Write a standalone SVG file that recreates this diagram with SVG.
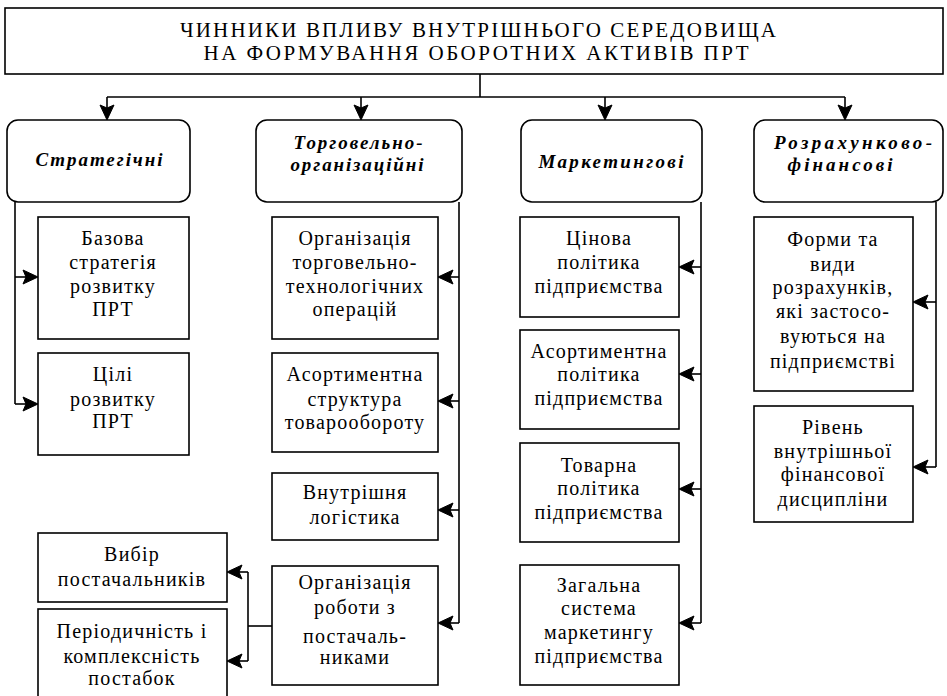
<svg xmlns="http://www.w3.org/2000/svg" xmlns:xlink="http://www.w3.org/1999/xlink" width="947" height="696" viewBox="0 0 947 696">
<defs>
<path id="ar" d="M0,0 L-15,-7 L-12,0 L-15,7 z" fill="#000" stroke="#000" stroke-width="1"/>
<style>
rect{fill:#fff;stroke:#000;stroke-width:1.6}
.t{font-family:"Liberation Serif","DejaVu Serif",serif;font-size:20px;letter-spacing:1.2px;text-anchor:middle;fill:#000}
.h{font-family:"Liberation Serif","DejaVu Serif",serif;font-size:19px;font-weight:bold;font-style:italic;text-anchor:middle;fill:#000}
.ti{font-family:"Liberation Serif","DejaVu Serif",serif;font-size:21px;text-anchor:middle;fill:#000}
#conn line{stroke:#000;stroke-width:1.6;fill:none}
</style>
</defs>
<rect width="947" height="696" style="fill:#fff;stroke:none"/>

<g id="title">
<rect x="5" y="8" width="938" height="66"/>
<text class="ti" x="478" y="37" textLength="596" lengthAdjust="spacing">ЧИННИКИ ВПЛИВУ ВНУТРІШНЬОГО СЕРЕДОВИЩА</text>
<text class="ti" x="476" y="60" textLength="545" lengthAdjust="spacing">НА ФОРМУВАННЯ ОБОРОТНИХ АКТИВІВ ПРТ</text>
</g>

<g id="h1"><rect x="7" y="120" width="183" height="82" rx="11"/>
<text class="h" x="99" y="166" textLength="127" lengthAdjust="spacing">Стратегічні</text></g>
<g id="h2"><rect x="256" y="120" width="206" height="82" rx="11"/>
<text class="h" x="358" y="149" textLength="129" lengthAdjust="spacing">Торговельно-</text>
<text class="h" x="357" y="171" textLength="133" lengthAdjust="spacing">організаційні</text></g>
<g id="h3"><rect x="521" y="120" width="181" height="82" rx="11"/>
<text class="h" x="611" y="168" textLength="145" lengthAdjust="spacing">Маркетингові</text></g>
<g id="h4"><rect x="754" y="120" width="189" height="82" rx="11"/>
<text class="h" x="853" y="149" textLength="158" lengthAdjust="spacing">Розрахунково-</text>
<text class="h" x="840" y="171" textLength="105" lengthAdjust="spacing">фінансові</text></g>

<g id="b11"><rect x="38" y="217" width="151" height="122"/>
<text class="t" x="113" y="245">Базова</text>
<text class="t" x="113" y="269">стратегія</text>
<text class="t" x="113" y="293">розвитку</text>
<text class="t" x="113" y="316">ПРТ</text></g>
<g id="b12"><rect x="38" y="353" width="151" height="102"/>
<text class="t" x="113" y="381">Цілі</text>
<text class="t" x="113" y="406">розвитку</text>
<text class="t" x="113" y="428">ПРТ</text></g>

<g id="b21"><rect x="272" y="217" width="166" height="122"/>
<text class="t" x="355" y="245">Організація</text>
<text class="t" x="355" y="269">торговельно-</text>
<text class="t" x="355" y="293">технологічних</text>
<text class="t" x="355" y="316">операцій</text></g>
<g id="b22"><rect x="272" y="353" width="166" height="99"/>
<text class="t" x="355" y="381">Асортиментна</text>
<text class="t" x="355" y="406">структура</text>
<text class="t" x="355" y="429">товарообороту</text></g>
<g id="b23"><rect x="272" y="473" width="166" height="67"/>
<text class="t" x="355" y="499">Внутрішня</text>
<text class="t" x="355" y="524">логістика</text></g>
<g id="b24"><rect x="272" y="566" width="166" height="119"/>
<text class="t" x="355" y="589">Організація</text>
<text class="t" x="355" y="614">роботи з</text>
<text class="t" x="355" y="643">постачаль-</text>
<text class="t" x="355" y="664">никами</text></g>

<g id="b25"><rect x="38" y="533" width="189" height="69"/>
<text class="t" x="132" y="561">Вибір</text>
<text class="t" x="132" y="586">постачальників</text></g>
<g id="b26"><rect x="38" y="609" width="189" height="100"/>
<text class="t" x="132" y="638">Періодичність і</text>
<text class="t" x="132" y="663">комплексність</text>
<text class="t" x="132" y="685">постабок</text></g>

<g id="b31"><rect x="520" y="217" width="159" height="100"/>
<text class="t" x="599" y="245">Цінова</text>
<text class="t" x="599" y="269">політика</text>
<text class="t" x="599" y="293">підприємства</text></g>
<g id="b32"><rect x="520" y="330" width="159" height="99"/>
<text class="t" x="599" y="358">Асортиментна</text>
<text class="t" x="599" y="381">політика</text>
<text class="t" x="599" y="405">підприємства</text></g>
<g id="b33"><rect x="520" y="443" width="159" height="99"/>
<text class="t" x="599" y="472">Товарна</text>
<text class="t" x="599" y="495">політика</text>
<text class="t" x="599" y="519">підприємства</text></g>
<g id="b34"><rect x="520" y="565" width="159" height="120"/>
<text class="t" x="599" y="592">Загальна</text>
<text class="t" x="599" y="615">система</text>
<text class="t" x="599" y="639">маркетингу</text>
<text class="t" x="599" y="663">підприємства</text></g>

<g id="b41"><rect x="754" y="217" width="159" height="174"/>
<text class="t" x="833" y="246">Форми та</text>
<text class="t" x="833" y="271">види</text>
<text class="t" x="833" y="294">розрахунків,</text>
<text class="t" x="833" y="318">які застосо-</text>
<text class="t" x="833" y="343">вуються на</text>
<text class="t" x="833" y="368">підприємстві</text></g>
<g id="b42"><rect x="754" y="406" width="159" height="116"/>
<text class="t" x="833" y="434">Рівень</text>
<text class="t" x="833" y="458">внутрішньої</text>
<text class="t" x="833" y="481">фінансової</text>
<text class="t" x="833" y="506">дисципліни</text></g>

<g id="conn">
<line x1="480" y1="74" x2="480" y2="97"/>
<line x1="107" y1="97" x2="845" y2="97"/>
<line x1="107" y1="97" x2="107" y2="110"/>
<line x1="361" y1="97" x2="361" y2="110"/>
<line x1="605" y1="97" x2="605" y2="110"/>
<line x1="845" y1="97" x2="845" y2="110"/>
<use xlink:href="#ar" href="#ar" transform="translate(107,120) rotate(90)"/>
<use xlink:href="#ar" href="#ar" transform="translate(361,120) rotate(90)"/>
<use xlink:href="#ar" href="#ar" transform="translate(605,120) rotate(90)"/>
<use xlink:href="#ar" href="#ar" transform="translate(845,120) rotate(90)"/>

<line x1="15" y1="202" x2="15" y2="404"/>
<line x1="15" y1="277" x2="28" y2="277"/>
<line x1="15" y1="404" x2="28" y2="404"/>
<use xlink:href="#ar" href="#ar" transform="translate(38,277)"/>
<use xlink:href="#ar" href="#ar" transform="translate(38,404)"/>

<line x1="459" y1="202" x2="459" y2="623"/>
<line x1="459" y1="277" x2="448" y2="277"/>
<line x1="459" y1="401" x2="448" y2="401"/>
<line x1="459" y1="510" x2="448" y2="510"/>
<line x1="459" y1="623" x2="448" y2="623"/>
<use xlink:href="#ar" href="#ar" transform="translate(438,277) rotate(180)"/>
<use xlink:href="#ar" href="#ar" transform="translate(438,401) rotate(180)"/>
<use xlink:href="#ar" href="#ar" transform="translate(438,510) rotate(180)"/>
<use xlink:href="#ar" href="#ar" transform="translate(438,623) rotate(180)"/>

<line x1="272" y1="626" x2="248" y2="626"/>
<line x1="248" y1="572" x2="248" y2="661"/>
<line x1="248" y1="572" x2="237" y2="572"/>
<line x1="248" y1="661" x2="237" y2="661"/>
<use xlink:href="#ar" href="#ar" transform="translate(227,572) rotate(180)"/>
<use xlink:href="#ar" href="#ar" transform="translate(227,661) rotate(180)"/>

<line x1="701" y1="202" x2="701" y2="623"/>
<line x1="701" y1="267" x2="689" y2="267"/>
<line x1="701" y1="374" x2="689" y2="374"/>
<line x1="701" y1="489" x2="689" y2="489"/>
<line x1="701" y1="623" x2="689" y2="623"/>
<use xlink:href="#ar" href="#ar" transform="translate(679,267) rotate(180)"/>
<use xlink:href="#ar" href="#ar" transform="translate(679,374) rotate(180)"/>
<use xlink:href="#ar" href="#ar" transform="translate(679,489) rotate(180)"/>
<use xlink:href="#ar" href="#ar" transform="translate(679,623) rotate(180)"/>

<line x1="936" y1="202" x2="936" y2="467"/>
<line x1="936" y1="302" x2="923" y2="302"/>
<line x1="936" y1="467" x2="923" y2="467"/>
<use xlink:href="#ar" href="#ar" transform="translate(913,302) rotate(180)"/>
<use xlink:href="#ar" href="#ar" transform="translate(913,467) rotate(180)"/>
</g>
</svg>
